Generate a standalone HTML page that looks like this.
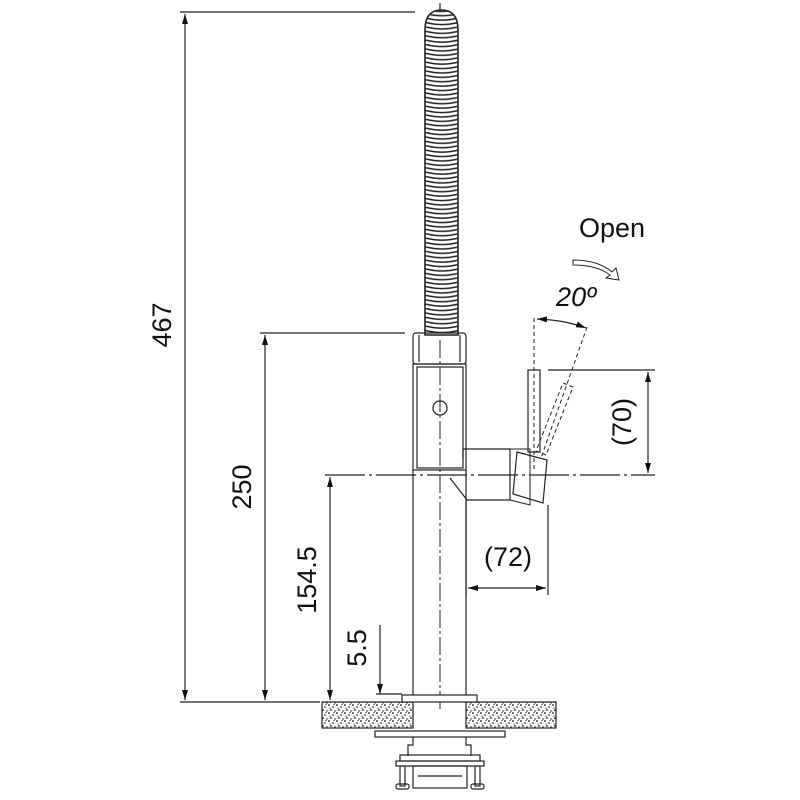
<!DOCTYPE html>
<html><head><meta charset="utf-8"><style>
html,body{margin:0;padding:0;background:#fff}
svg{display:block}
text{font-family:"Liberation Sans",sans-serif;fill:#111}
</style></head><body>
<svg width="800" height="800" viewBox="0 0 800 800" xmlns="http://www.w3.org/2000/svg">
<defs>
<marker id="a" viewBox="0 0 10 10" refX="10" refY="5" markerWidth="10" markerHeight="10" markerUnits="userSpaceOnUse" orient="auto-start-reverse"><path d="M0,2 L10,5 L0,8z" fill="#111"/></marker>
<pattern id="spr" x="425" y="0" width="34" height="4.4" patternUnits="userSpaceOnUse">
<rect width="34" height="4.4" fill="#fff"/>
<path d="M0.5,0.5 Q17,4.6 33.5,0.5" fill="none" stroke="#222" stroke-width="1.5"/>
</pattern>
<pattern id="gr" width="8" height="8" patternUnits="userSpaceOnUse">
<rect width="8" height="8" fill="#fff"/>
<circle cx="1" cy="1" r="0.9" fill="#111"/><circle cx="5" cy="3" r="0.8" fill="#111"/><circle cx="3" cy="6" r="0.9" fill="#111"/><circle cx="7" cy="7" r="0.7" fill="#111"/><circle cx="6" cy="0.5" r="0.6" fill="#111"/><circle cx="2" cy="4" r="0.6" fill="#111"/>
</pattern>
</defs>
<g stroke="#222" stroke-width="1.2" fill="none">
<line x1="180" y1="12" x2="415" y2="12"/>
<line x1="180" y1="702" x2="320" y2="702"/>
<line x1="185" y1="14" x2="185" y2="700" marker-start="url(#a)" marker-end="url(#a)"/>
<line x1="260" y1="333" x2="405" y2="333"/>
<line x1="265" y1="335" x2="265" y2="700" marker-start="url(#a)" marker-end="url(#a)"/>
<line x1="325" y1="475" x2="655" y2="475" stroke-dasharray="40,4,3,4"/>
<line x1="330" y1="477" x2="330" y2="700" marker-start="url(#a)" marker-end="url(#a)"/>
<line x1="380" y1="625" x2="380" y2="694" marker-end="url(#a)"/>
<line x1="376" y1="694" x2="402" y2="694"/>
<path d="M425,30 Q425,10 441.5,10 Q458,10 458,30 L458,335 L425,335 Z" fill="url(#spr)" stroke="#222" stroke-width="1.6"/>
<line x1="440" y1="3" x2="440" y2="12"/>
<rect x="413" y="333" width="53" height="31" rx="3"/>
<line x1="419" y1="335" x2="419" y2="362"/><line x1="460" y1="335" x2="460" y2="362"/>
<rect x="413" y="364" width="53" height="106"/>
<rect x="417" y="367" width="46" height="101"/>
<circle cx="440" cy="408" r="7"/>
<line x1="413" y1="470" x2="413" y2="695"/>
<line x1="466" y1="470" x2="466" y2="695"/>
<line x1="440" y1="340" x2="440" y2="712" stroke-dasharray="18,3,3,3" stroke-width="1"/>
<path d="M463,449 L510,449 L510,500 L467,500 L450,478"/>
<line x1="463" y1="449" x2="463" y2="458"/>
<path d="M517,452 L547,460 L543,503 L513,494 Z"/>
<path d="M510,449 L530,449 L530,505 L510,500" stroke-width="1"/>
<rect x="528" y="370" width="12" height="82"/>
<g stroke-dasharray="4,3" stroke-width="1">
<path d="M563,383 L573,387 L546,455 L536,451 Z"/>
<line x1="534" y1="318" x2="534" y2="470"/>
<line x1="587" y1="327" x2="541" y2="458"/>
</g>
<path d="M537,319 Q565,320 586,328" marker-start="url(#a)" marker-end="url(#a)"/>
<path d="M573,260 Q598,260 612,272 L616,268 L619,280 L606,278 L610,275 Q597,265 573,265 Z" stroke-width="1"/>
<line x1="548" y1="370" x2="655" y2="370"/>
<line x1="648" y1="372" x2="648" y2="473" marker-start="url(#a)" marker-end="url(#a)"/>
<line x1="466" y1="500" x2="466" y2="595"/>
<line x1="548" y1="505" x2="548" y2="595"/>
<line x1="468" y1="588" x2="546" y2="588" marker-start="url(#a)" marker-end="url(#a)"/>
<rect x="322" y="702" width="91" height="26" fill="url(#gr)"/>
<rect x="466" y="702" width="90" height="26" fill="url(#gr)"/>
<rect x="402" y="695" width="75" height="7" fill="#fff"/>
<rect x="375" y="731" width="130" height="6"/>
<path d="M413,737 L413,745 L408,745 L408,756"/>
<path d="M466,737 L466,745 L471,745 L471,756"/>
<rect x="400" y="755" width="80" height="6"/>
<rect x="396" y="761" width="88" height="5"/>
<rect x="413" y="766" width="54" height="22"/>
<rect x="400" y="766" width="5" height="20"/>
<rect x="475" y="766" width="5" height="20"/>
<rect x="396" y="784" width="13" height="5" rx="2"/>
<rect x="471" y="784" width="13" height="5" rx="2"/>
<line x1="418" y1="776" x2="462" y2="776"/>
</g>
<g font-size="27">
<text transform="translate(171,325) rotate(-90)" text-anchor="middle">467</text>
<text transform="translate(251,487) rotate(-90)" text-anchor="middle">250</text>
<text transform="translate(316,580) rotate(-90)" text-anchor="middle">154.5</text>
<text transform="translate(366,648) rotate(-90)" text-anchor="middle">5.5</text>
<text transform="translate(631,422) rotate(-90)" text-anchor="middle">(70)</text>
<text x="508" y="566" text-anchor="middle">(72)</text>
<text x="612" y="237" text-anchor="middle" font-size="27">Open</text>
<text x="576" y="306" text-anchor="middle" font-style="italic" font-size="27">20º</text>
</g>
</svg>
</body></html>
